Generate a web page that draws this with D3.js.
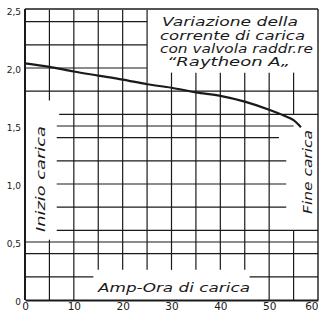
<!DOCTYPE html>
<html><head><meta charset="utf-8">
<script src="https://cdn.jsdelivr.net/npm/d3@7"></script>
<style>body{margin:0;background:#fff}svg{display:block}</style>
</head><body>
<script>
// Data
const curveX = [0, 5, 10, 15, 20, 25, 30, 35, 40, 45, 50, 53, 55, 56.5];
const curveY = [2.04, 2.01, 1.97, 1.935, 1.90, 1.86, 1.83, 1.79, 1.76, 1.71, 1.64, 1.59, 1.55, 1.49];
const xTicks = [0, 10, 20, 30, 40, 50, 60];
const yTicks = [0, 0.5, 1.0, 1.5, 2.0, 2.5];
const yTickLabels = ["0", "0,5", "1,0", "1,5", "2,0", "2,5"];
// hand-drawn grid segments (data units): [y, x0, x1] and [x, y0, y1]
const hSegs = [[2.4,0,25],[2.2,0,25],[2.0,0,25],[1.8,0,60],[1.6,7,60],[1.5,6.5,55],[1.4,6.5,52],
  [1.2,6.5,53.5],[1.0,6.5,53.5],[0.8,6.5,53.5],[0.6,6.5,60],[0.5,0,60],[0.4,0,60],[0.2,0,14],[0.2,46,60]];
const vSegs = [[5,1.72,2.5],[5,0,0.52],[10,0,2.5],[15,0.26,2.5],[20,0.26,2.5],[25,0.26,2.5],
  [30,0.26,1.96],[35,0.26,1.96],[40,0.26,1.96],[45,0.26,1.96],[50,0,1.96],[55,1.6,1.96],[55,0,0.6]];
const titleLines = ["Variazione della", "corrente di carica", "con valvola raddr.re", "“Raytheon A„"];
const xLabel = "Amp-Ora di carica";
const leftNote = "Inizio carica";
const rightNote = "Fine carica";

const W = 319, H = 314;
const svg = d3.select("body").append("svg").attr("width", W).attr("height", H);
const x = d3.scaleLinear().domain([0, 60]).range([25, 318]);
const y = d3.scaleLinear().domain([0, 2.5]).range([300, 10]);
const ink = "#1a1a1a";
const font = "'DejaVu Sans', sans-serif";

// grid
svg.append("g").selectAll("line").data(hSegs).join("line")
  .attr("x1", d => x(d[1])).attr("x2", d => x(d[2]))
  .attr("y1", d => y(d[0])).attr("y2", d => y(d[0]))
  .attr("stroke", ink).attr("stroke-width", 1.2);
svg.append("g").selectAll("line").data(vSegs).join("line")
  .attr("x1", d => x(d[0])).attr("x2", d => x(d[0]))
  .attr("y1", d => y(d[1])).attr("y2", d => y(d[2]))
  .attr("stroke", ink).attr("stroke-width", 1.2);

// frame
svg.append("line").attr("x1", x(0)).attr("x2", x(60)).attr("y1", 9).attr("y2", 9).attr("stroke", ink).attr("stroke-width", 1.4);
svg.append("line").attr("x1", x(60)).attr("x2", x(60)).attr("y1", 9).attr("y2", y(0)).attr("stroke", ink).attr("stroke-width", 1.4);
svg.append("line").attr("x1", x(0)).attr("x2", x(0)).attr("y1", 9).attr("y2", y(0)).attr("stroke", ink).attr("stroke-width", 2);

// axes
const xa = svg.append("g").attr("transform", `translate(0,${y(0)})`)
  .call(d3.axisBottom(x).tickValues(xTicks).tickSize(0).tickPadding(3));
xa.select(".domain").attr("stroke", ink).attr("stroke-width", 1.8);
xa.selectAll("text").attr("font-family", font).attr("font-size", 10.5).attr("fill", ink)
  .attr("text-anchor", d => d === 60 ? "end" : "middle").attr("dx", d => d === 60 ? 0 : 0);
const ya = svg.append("g").attr("transform", `translate(${x(0)},0)`)
  .call(d3.axisLeft(y).tickValues(yTicks).tickSize(0).tickPadding(4).tickFormat((d, i) => yTickLabels[i]));
ya.select(".domain").remove();
ya.selectAll("text").attr("font-family", font).attr("font-size", 9).attr("fill", ink).attr("dy", "0.5em");

// curve
const pts = curveX.map((v, i) => [v, curveY[i]]);
svg.append("path").datum(pts)
  .attr("d", d3.line().x(d => x(d[0])).y(d => y(d[1])).curve(d3.curveMonotoneX))
  .attr("fill", "none").attr("stroke", ink).attr("stroke-width", 2.2);

// title
const tb = [26, 40, 53, 66];
const tx = [162, 160, 160, 167];
const tw = [136, 145, 153, 123];
svg.append("rect").attr("x", 152).attr("y", 10).attr("width", 165).attr("height", 60).attr("fill", "#fff");
svg.selectAll(".title").data(titleLines).join("text")
  .attr("x", (d, i) => tx[i]).attr("y", (d, i) => tb[i])
  .attr("textLength", (d, i) => tw[i]).attr("lengthAdjust", "spacingAndGlyphs")
  .attr("font-family", font).attr("font-style", "italic").attr("font-size", 12)
  .attr("fill", ink).text(d => d);

// x label
svg.append("rect").attr("x", 93).attr("y", 279).attr("width", 160).attr("height", 20).attr("fill", "#fff");
svg.append("text").attr("x", 98).attr("y", 292).attr("textLength", 152).attr("lengthAdjust", "spacingAndGlyphs")
  .attr("font-family", font).attr("font-style", "italic").attr("font-size", 13).attr("fill", ink).text(xLabel);

// side notes
svg.append("text").attr("transform", "translate(45,232) rotate(-90)")
  .attr("textLength", 106).attr("lengthAdjust", "spacingAndGlyphs")
  .attr("font-family", font).attr("font-style", "italic").attr("font-size", 13).attr("fill", ink).text(leftNote);
svg.append("text").attr("transform", "translate(312,214) rotate(-90)")
  .attr("textLength", 84).attr("lengthAdjust", "spacingAndGlyphs")
  .attr("font-family", font).attr("font-style", "italic").attr("font-size", 13).attr("fill", ink).text(rightNote);
</script>
</body></html>
